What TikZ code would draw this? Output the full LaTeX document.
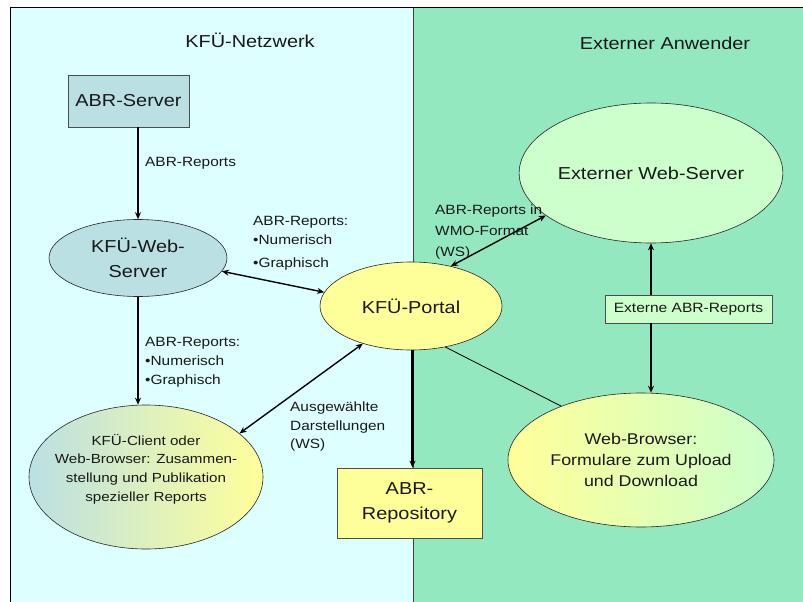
\documentclass[tikz,border=0pt]{standalone}
\usepackage{fontspec}
\setmainfont{Liberation Sans}[FakeStretch=1.15]
\usetikzlibrary{shapes.geometric,arrows.meta}
\definecolor{leftbg}{RGB}{221,255,255}
\definecolor{rightbg}{RGB}{148,232,192}
\definecolor{tealfill}{RGB}{187,224,228}
\definecolor{yelfill}{RGB}{255,255,153}
\definecolor{grnfill}{RGB}{204,255,204}
\begin{document}
\begin{tikzpicture}[x=1pt,y=-1pt,
  every node/.style={text=black!90},
  ell/.style={ellipse,draw=black!85,line width=0.6pt,inner sep=0pt,align=center},
  boxn/.style={rectangle,draw=black!70,line width=0.6pt,inner sep=0pt,align=center},
  big/.style={font=\fontsize{17.3}{25}\selectfont},
  lbl/.style={font=\fontsize{13.4}{19}\selectfont,align=left,inner sep=0pt,anchor=west},
  tip/.tip={Stealth[length=7pt,width=6pt]},
  arr/.style={-tip,line width=1.4pt},
  darr/.style={tip-tip,line width=1.4pt}]
\useasboundingbox (0,0) rectangle (803,602);
\fill[white] (0,0) rectangle (803,602);
\fill[leftbg] (10,8) rectangle (413,602);
\fill[rightbg] (413,8) rectangle (803,602);
\draw[black!75,line width=0.6pt] (413,8) -- (413,602);
\draw[black,line width=1pt] (10,602) -- (10,8) -- (803,8);

\node[big] (t1) at (250,40) {KFÜ-Netzwerk};
\node[big] (t2) at (665,43) {Externer Anwender};

\node[boxn,big,fill=tealfill,minimum width=121pt,minimum height=52pt] (abr) at (128.5,101) {ABR-Server};
\node[ell,big,fill=tealfill,minimum width=178pt,minimum height=77pt] (ws) at (138,258) {KFÜ-Web-\\Server};
\node[ell,left color=tealfill,right color=yelfill,minimum width=234pt,minimum height=144pt,
  label={[font=\fontsize{13.2}{18.7}\selectfont,align=center,yshift=8pt]center:KFÜ-Client oder\\Web-Browser: Zusammen-\\stellung und Publikation\\spezieller Reports}] (client) at (146,477) {};
\node[ell,big,fill=yelfill,minimum width=182pt,minimum height=88pt] (portal) at (411,306) {KFÜ-Portal};
\node[boxn,big,fill=yelfill,minimum width=145pt,minimum height=70pt] (repo) at (409.5,503) {ABR-\\Repository};
\node[ell,big,fill=grnfill,minimum width=246pt,minimum height=140pt] (ext) at (651,173) {Externer Web-Server};
\node[boxn,font=\fontsize{13.5}{16}\selectfont,fill=grnfill,minimum width=167pt,minimum height=28pt] (extbox) at (688.5,309) {Externe ABR-Reports};
\node[ell,font=\fontsize{15.5}{21}\selectfont,left color=yelfill,right color=grnfill,minimum width=266pt,minimum height=134pt] (browser) at (641,460) {Web-Browser:\\Formulare zum Upload\\und Download};

\coordinate (bt) at (ext.south |- browser.north);
\coordinate (rx) at (412.5,0);

\draw[arr] (abr.south -| ws.north) -- (ws.north);
\draw[arr] (ws.south) -- (ws.south |- client.north);
\draw[darr] (ws.-9) -- (portal.171);
\draw[darr] (portal.45) -- (ext.202);
\draw[darr] (portal.218) -- (client.25);
\draw[-tip,line width=2.2pt] (portal.south -| rx) -- (repo.north -| rx);
\draw[line width=0.8pt] (portal.-50) -- (browser.146);
\draw[arr] (extbox.north -| ext.south) -- (ext.south);
\draw[arr] (extbox.south -| ext.south) -- (bt);

\node[lbl] (l1) at (145,163) {ABR-Reports};
\node[lbl] (l2) at (253,243) {ABR-Reports:\\•Numerisch\\[4pt]•Graphisch};
\node[lbl] (l3) at (145,362) {ABR-Reports:\\•Numerisch\\•Graphisch};
\node[lbl,font=\fontsize{13.4}{21}\selectfont] (l4) at (435,232) {ABR-Reports in\\WMO-Format\\(WS)};
\node[lbl,font=\fontsize{13.4}{18.5}\selectfont] (l5) at (290,427) {Ausgewählte\\Darstellungen\\(WS)};
\end{tikzpicture}
\end{document}
